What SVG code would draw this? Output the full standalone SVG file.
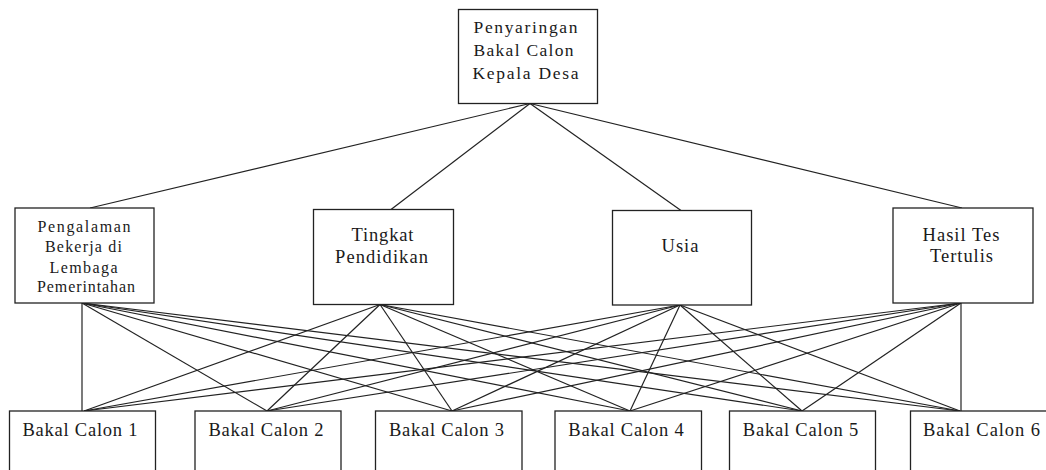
<svg xmlns="http://www.w3.org/2000/svg" width="1046" height="470" viewBox="0 0 1046 470">
<style>
.box{fill:#fff;stroke:#222;stroke-width:1.3}
.ln{stroke:#222;stroke-width:1.2;fill:none}
text{fill:#1a1a1a;text-anchor:middle}
.t{font-size:17.5px}
.m{font-size:18.5px}
.s{font-size:16px}
.b{font-size:18.5px}
</style>
<rect width="1046" height="470" fill="#fff"/>
<g id="connectors" class="ln">
<line x1="530" y1="103.5" x2="90" y2="208"/>
<line x1="530" y1="103.5" x2="391" y2="209.5"/>
<line x1="530" y1="103.5" x2="681" y2="210.5"/>
<line x1="530" y1="103.5" x2="962" y2="208"/>
<line x1="82" y1="303" x2="82" y2="411"/>
<line x1="82" y1="303" x2="267" y2="411"/>
<line x1="82" y1="303" x2="452" y2="411"/>
<line x1="82" y1="303" x2="630" y2="411"/>
<line x1="82" y1="303" x2="802" y2="411"/>
<line x1="82" y1="303" x2="960" y2="411"/>
<line x1="380" y1="304.5" x2="84" y2="411"/>
<line x1="380" y1="304.5" x2="267" y2="411"/>
<line x1="380" y1="304.5" x2="452" y2="411"/>
<line x1="380" y1="304.5" x2="630" y2="411"/>
<line x1="380" y1="304.5" x2="802" y2="411"/>
<line x1="380" y1="304.5" x2="960" y2="411"/>
<line x1="680" y1="305" x2="84" y2="411"/>
<line x1="680" y1="305" x2="267" y2="411"/>
<line x1="680" y1="305" x2="452" y2="411"/>
<line x1="680" y1="305" x2="630" y2="411"/>
<line x1="680" y1="305" x2="802" y2="411"/>
<line x1="680" y1="305" x2="960" y2="411"/>
<line x1="961" y1="303" x2="84" y2="411"/>
<line x1="961" y1="303" x2="267" y2="411"/>
<line x1="961" y1="303" x2="452" y2="411"/>
<line x1="961" y1="303" x2="630" y2="411"/>
<line x1="961" y1="303" x2="802" y2="411"/>
<line x1="961" y1="303" x2="961" y2="411"/>
</g>
<g font-family="Tinos, 'Times New Roman', Times, 'Noto Serif', 'DejaVu Serif', FreeSerif, 'Liberation Serif', serif">
<g id="root">
<rect class="box" x="458.5" y="9.5" width="139" height="94"/>
<text class="t" x="525.5" y="33" textLength="104" lengthAdjust="spacing">Penyaringan</text>
<text class="t" x="523.5" y="56" textLength="100" lengthAdjust="spacing">Bakal Calon</text>
<text class="t" x="525.5" y="79" textLength="106" lengthAdjust="spacing">Kepala Desa</text>
</g>
<g id="c1">
<rect class="box" x="15" y="208" width="139" height="95"/>
<text class="s" x="84" y="231.5" textLength="93" lengthAdjust="spacing">Pengalaman</text>
<text class="s" x="83.5" y="252" textLength="77" lengthAdjust="spacing">Bekerja di</text>
<text class="s" x="83.5" y="273" textLength="68" lengthAdjust="spacing">Lembaga</text>
<text class="s" x="86" y="291.5" textLength="98" lengthAdjust="spacing">Pemerintahan</text>
</g>
<g id="c2">
<rect class="box" x="313.5" y="209.5" width="140" height="95"/>
<text class="m" x="382.5" y="241" textLength="62" lengthAdjust="spacing">Tingkat</text>
<text class="m" x="381.5" y="262.5" textLength="93" lengthAdjust="spacing">Pendidikan</text>
</g>
<g id="c3">
<rect class="box" x="612.5" y="210.5" width="139" height="94.5"/>
<text class="m" x="680" y="251.5" textLength="37" lengthAdjust="spacing">Usia</text>
</g>
<g id="c4">
<rect class="box" x="893" y="208" width="140" height="95"/>
<text class="m" x="961" y="240.5" textLength="77" lengthAdjust="spacing">Hasil Tes</text>
<text class="m" x="961.5" y="261.5" textLength="63" lengthAdjust="spacing">Tertulis</text>
</g>
<g id="a1">
<rect class="box" x="9.5" y="411" width="146" height="70"/>
<text class="b" x="80" y="435.5" textLength="115" lengthAdjust="spacing">Bakal Calon 1</text>
</g>
<g id="a2">
<rect class="box" x="195" y="411" width="146" height="70"/>
<text class="b" x="266" y="435.5" textLength="115" lengthAdjust="spacing">Bakal Calon 2</text>
</g>
<g id="a3">
<rect class="box" x="375.5" y="411" width="146.5" height="70"/>
<text class="b" x="446.5" y="435.5" textLength="115" lengthAdjust="spacing">Bakal Calon 3</text>
</g>
<g id="a4">
<rect class="box" x="555" y="411" width="146.5" height="70"/>
<text class="b" x="626" y="435.5" textLength="115.5" lengthAdjust="spacing">Bakal Calon 4</text>
</g>
<g id="a5">
<rect class="box" x="729.5" y="411" width="146" height="70"/>
<text class="b" x="800.5" y="435.5" textLength="115.5" lengthAdjust="spacing">Bakal Calon 5</text>
</g>
<g id="a6">
<rect class="box" x="910.5" y="411" width="150" height="70"/>
<text class="b" x="981.5" y="435.5" textLength="117" lengthAdjust="spacing">Bakal Calon 6</text>
</g>
</g>
</svg>
